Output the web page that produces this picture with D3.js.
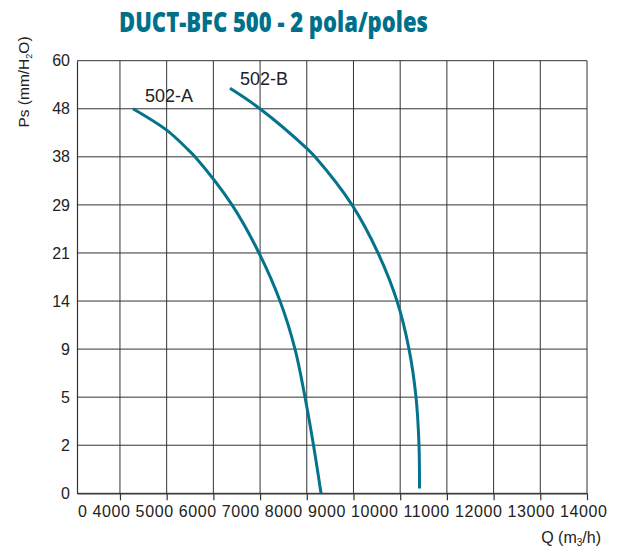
<!DOCTYPE html>
<html>
<head>
<meta charset="utf-8">
<script src="https://cdn.jsdelivr.net/npm/d3@7"></script>
<style>
  html, body { margin: 0; padding: 0; background: #fff; }
  text { font-family: "Liberation Sans", Arial, sans-serif; }
</style>
</head>
<body>
<svg id="chart" width="627" height="550"></svg>
<script>
// ---- data ----
const titleText = "DUCT-BFC 500 - 2 pola/poles";
const xTickValues = [4000, 5000, 6000, 7000, 8000, 9000, 10000, 11000, 12000, 13000, 14000];
const xTickLabels = ["0", "4000", "5000", "6000", "7000", "8000", "9000", "10000", "11000", "12000", "13000", "14000"];
const yTickValues = [0, 2, 5, 9, 14, 21, 29, 38, 48, 60];
const seriesNames = ["502-A", "502-B"];
const seriesA_Q  = [4279, 5007, 5457, 5607, 6399, 6977, 7427, 7748, 7962, 8144, 8305];
const seriesA_Ps = [48, 43.5, 39.5, 38, 29, 21, 14, 9, 5, 2, 0];
const seriesB_Q  = [6356, 6998, 8005, 8176, 8968, 9525, 9932, 10189, 10339, 10403, 10413];
const seriesB_Ps = [53.1, 48, 39.7, 38, 29, 21, 14, 9, 5, 2, 0.2];

// ---- layout ----
(function () {
const svg = d3.select("#chart");
const mLeft = 77, mRight = 587, mTop = 60.7, mBottom = 493.3;
const teal = "#05738b";

const x = d3.scaleLinear().domain([3080, 14000]).range([mLeft, mRight]);
const y = d3.scaleLinear()
  .domain(yTickValues)
  .range(yTickValues.map((d, i) => mBottom - i * (mBottom - mTop) / (yTickValues.length - 1)));

// title
svg.append("text")
  .attr("x", 273.5).attr("y", 32)
  .attr("text-anchor", "middle")
  .attr("textLength", 309).attr("lengthAdjust", "spacingAndGlyphs")
  .style("font-family", "'Open Sans', sans-serif")
  .style("font-weight", "800")
  .style("font-size", "28px")
  .style("fill", "#00708a")
  .text(titleText);

// grid
const grid = svg.append("g").attr("stroke", "#333").attr("stroke-width", 1);
grid.selectAll("line.v").data(xTickValues).join("line")
  .attr("class", "v")
  .attr("x1", d => x(d)).attr("x2", d => x(d))
  .attr("y1", y(0)).attr("y2", y(60));
grid.selectAll("line.h").data(yTickValues).join("line")
  .attr("class", "h")
  .attr("x1", x.range()[0]).attr("x2", x(14000))
  .attr("y1", d => y(d)).attr("y2", d => y(d));

// axes
const xAxis = svg.append("g")
  .attr("transform", `translate(0,${y(0)})`)
  .call(d3.axisBottom(x).tickValues(xTickValues).tickSize(7).tickSizeOuter(0).tickFormat(""));
xAxis.selectAll("path, line").attr("stroke", "#333").attr("stroke-width", 1.2);

const yAxis = svg.append("g")
  .attr("transform", `translate(${mLeft},0)`)
  .call(d3.axisLeft(y).tickValues(yTickValues).tickSize(0).tickPadding(7).tickSizeOuter(0));
yAxis.select("path").attr("stroke", "#333").attr("stroke-width", 1.2);
yAxis.selectAll("text")
  .style("font-family", "'Liberation Sans', Arial, sans-serif")
  .style("font-size", "16px").style("fill", "#222");

// x tick label row
svg.append("text")
  .attr("x", 78).attr("y", 517)
  .attr("textLength", 529).attr("lengthAdjust", "spacing")
  .style("font-size", "16px").style("fill", "#222")
  .text(xTickLabels.join(" "));

// axis titles
const yt = svg.append("text")
  .attr("transform", "translate(29,82) rotate(-90)")
  .attr("text-anchor", "middle")
  .style("font-size", "15.5px").style("fill", "#222");
yt.append("tspan").text("Ps (mm/H");
yt.append("tspan").attr("dy", 3).style("font-size", "9px").text("2");
yt.append("tspan").attr("dy", -3).text("O)");

const xt = svg.append("text")
  .attr("x", 601).attr("y", 543)
  .attr("text-anchor", "end")
  .style("font-size", "16px").style("fill", "#222");
xt.append("tspan").text("Q (m");
xt.append("tspan").attr("dy", 3).style("font-size", "10px").text("3");
xt.append("tspan").attr("dy", -3).text("/h)");

// curves
const series = [
  seriesA_Q.map((q, i) => [q, seriesA_Ps[i]]),
  seriesB_Q.map((q, i) => [q, seriesB_Ps[i]])
];
const line = d3.line()
  .x(d => x(d[0])).y(d => y(d[1]))
  .curve(d3.curveCatmullRom.alpha(0.5));
svg.append("g").selectAll("path").data(series).join("path")
  .attr("d", line)
  .attr("fill", "none")
  .attr("stroke", teal)
  .attr("stroke-width", 3)
  .attr("stroke-linecap", "butt");

// curve labels
const labelPos = [[145, 102], [240, 85]];
svg.append("g").selectAll("text").data(seriesNames).join("text")
  .attr("x", (d, i) => labelPos[i][0])
  .attr("y", (d, i) => labelPos[i][1])
  .style("font-size", "18px").style("fill", "#222")
  .text(d => d);
})();
</script>
</body>
</html>
